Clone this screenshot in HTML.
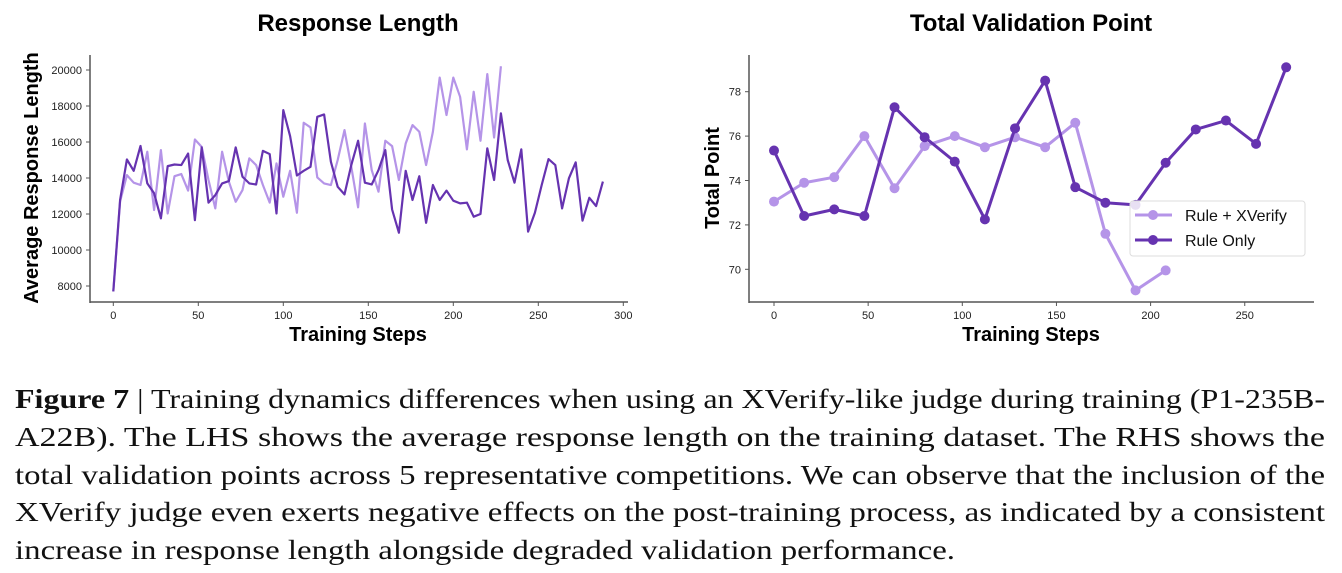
<!DOCTYPE html>
<html><head><meta charset="utf-8"><style>
html,body{margin:0;padding:0;background:#fff;}
svg{display:block;font-family:"Liberation Sans",Arial,sans-serif;}
.cap{font-family:"Liberation Serif",serif;font-size:27px;fill:#111;}
</style></head><body>
<svg id="fig" width="1342" height="573" viewBox="0 0 1342 573">
<g id="left"></g>
<g id="right"></g>
<g>
<text class="cap" x="15" y="408" textLength="1310" lengthAdjust="spacingAndGlyphs"><tspan font-weight="bold">Figure 7</tspan> | Training dynamics differences when using an XVerify-like judge during training (P1-235B-</text>
<text class="cap" x="15" y="446" textLength="1310" lengthAdjust="spacingAndGlyphs">A22B). The LHS shows the average response length on the training dataset.  The RHS shows the</text>
<text class="cap" x="15" y="484" textLength="1310" lengthAdjust="spacingAndGlyphs">total validation points across 5 representative competitions. We can observe that the inclusion of the</text>
<text class="cap" x="15" y="521" textLength="1310" lengthAdjust="spacingAndGlyphs">XVerify judge even exerts negative effects on the post-training process, as indicated by a consistent</text>
<text class="cap" x="15" y="559" textLength="940" lengthAdjust="spacingAndGlyphs">increase in response length alongside degraded validation performance.</text>
</g>
</svg>
<script>
// ---- Left chart data ----
const lenStepsDark = Array.from({length:73},(_,i)=>i*4);
const lenDark = [7700,12780,15030,14400,15780,13700,13150,11760,14660,14750,14720,15360,11660,15700,12630,13050,13700,13830,15700,14070,13700,13640,15510,15330,12030,17770,16330,14140,14400,14620,17400,17530,14900,13510,13090,14720,16070,13740,13640,14440,15550,12250,10960,14400,12780,14100,11510,13610,12780,13300,12740,12590,12630,11850,12000,15650,13890,17590,15000,13740,15590,11020,12070,13610,15050,14720,12310,13980,14870,11630,12900,12440,13800];
const lenStepsLight = Array.from({length:58},(_,i)=>i*4);
const lenLight = [7700,12700,14160,13740,13610,15460,12220,15550,12030,14100,14220,13300,16140,15730,13890,12310,15460,13790,12680,13330,15090,14720,13610,12630,14810,12960,14400,12070,17070,16810,14030,13700,13610,15000,16660,14620,12370,17030,14440,13240,16070,15770,13890,15920,16940,16570,14720,16570,19580,17500,19580,18510,15590,18790,16070,19770,16250,20210];
const lenXTicks = [0,50,100,150,200,250,300];
const lenYTicks = [8000,10000,12000,14000,16000,18000,20000];
// ---- Right chart data ----
const ptStepsLight = [0,16,32,48,64,80,96,112,128,144,160,176,192,208];
const ptLight = [73.05,73.9,74.15,76.0,73.65,75.55,76.0,75.5,75.95,75.5,76.6,71.6,69.05,69.95];
const ptStepsDark = [0,16,32,48,64,80,96,112,128,144,160,176,192,208,224,240,256,272];
const ptDark = [75.35,72.4,72.7,72.4,77.3,75.95,74.85,72.25,76.35,78.5,73.7,73.0,72.9,74.8,76.3,76.7,75.65,79.1];
const ptXTicks = [0,50,100,150,200,250];
const ptYTicks = [70,72,74,76,78];

const NS="http://www.w3.org/2000/svg";
const LIGHT="#b594e8", DARK="#6633b0";
function mk(parent,tag,attrs,txt){const e=document.createElementNS(NS,tag);for(const k in attrs)e.setAttribute(k,attrs[k]);if(txt!==undefined)e.textContent=txt;parent.appendChild(e);return e;}

// Left
(function(){
const g=document.getElementById('left');
const xS=v=>113.3+v*1.70, yS=v=>286-(v-8000)*0.018;
const L=90,B=302,R=628,T=55;
const t=mk(g,'text',{x:358,y:31,'text-anchor':'middle','font-size':24,'font-weight':'bold',fill:'#000'},'Response Length');


const yl=mk(g,'text',{x:38,y:178,'text-anchor':'middle','font-size':20,'font-weight':'bold',fill:'#000',transform:'rotate(-90 38 178)'},'Average Response Length');


const xl=mk(g,'text',{x:358,y:341,'text-anchor':'middle','font-size':20,'font-weight':'bold',fill:'#000'},'Training Steps');


mk(g,'line',{x1:L,y1:T,x2:L,y2:B+1,stroke:'#555','stroke-width':1.5});
mk(g,'line',{x1:L,y1:B,x2:R,y2:B,stroke:'#555','stroke-width':1.5});
lenYTicks.forEach(v=>{const y=yS(v);mk(g,'line',{x1:L-4,y1:y,x2:L,y2:y,stroke:'#555'});
 const tt=mk(g,'text',{x:L-8,y:y+4,'text-anchor':'end','font-size':11,fill:'#222'},v);
 
 });
lenXTicks.forEach(v=>{const x=xS(v);mk(g,'line',{x1:x,y1:B,x2:x,y2:B+4,stroke:'#555'});
 const tt=mk(g,'text',{x:x,y:B+17,'text-anchor':'middle','font-size':11,fill:'#222'},v);
 
 });
const pl=mk(g,'polyline',{points:lenStepsLight.map((s,i)=>xS(s)+','+yS(lenLight[i])).join(' '),fill:'none',stroke:LIGHT,'stroke-width':2.2,'stroke-linejoin':'round'});


const pd=mk(g,'polyline',{points:lenStepsDark.map((s,i)=>xS(s)+','+yS(lenDark[i])).join(' '),fill:'none',stroke:DARK,'stroke-width':2.2,'stroke-linejoin':'round'});


})();

// Right
(function(){
const g=document.getElementById('right');
const xS=v=>774+v*1.883, yS=v=>269.3-(v-70)*22.2;
const L=749,B=302,R=1314,T=55;
const t=mk(g,'text',{x:1031,y:31,'text-anchor':'middle','font-size':24,'font-weight':'bold',fill:'#000'},'Total Validation Point');


const yl=mk(g,'text',{x:719,y:178,'text-anchor':'middle','font-size':20,'font-weight':'bold',fill:'#000',transform:'rotate(-90 719 178)'},'Total Point');


const xl=mk(g,'text',{x:1031,y:341,'text-anchor':'middle','font-size':20,'font-weight':'bold',fill:'#000'},'Training Steps');


mk(g,'line',{x1:L,y1:T,x2:L,y2:B+1,stroke:'#555','stroke-width':1.5});
mk(g,'line',{x1:L,y1:B,x2:R,y2:B,stroke:'#555','stroke-width':1.5});
ptYTicks.forEach(v=>{const y=yS(v);mk(g,'line',{x1:L-4,y1:y,x2:L,y2:y,stroke:'#555'});
 const tt=mk(g,'text',{x:L-8,y:y+4,'text-anchor':'end','font-size':11,fill:'#222'},v);
 
 });
ptXTicks.forEach(v=>{const x=xS(v);mk(g,'line',{x1:x,y1:B,x2:x,y2:B+4,stroke:'#555'});
 const tt=mk(g,'text',{x:x,y:B+17,'text-anchor':'middle','font-size':11,fill:'#222'},v);
 
 });
function series(steps,vals,col,name){
 const p=mk(g,'polyline',{points:steps.map((s,i)=>xS(s)+','+yS(vals[i])).join(' '),fill:'none',stroke:col,'stroke-width':3,'stroke-linejoin':'round'});
 
 
 steps.forEach((s,i)=>{const c=mk(g,'circle',{cx:xS(s),cy:yS(vals[i]),r:5,fill:col});
  
  });
}
series(ptStepsLight,ptLight,LIGHT,'rule-xverify');
series(ptStepsDark,ptDark,DARK,'rule-only');
const lg=mk(g,'g',{});


mk(lg,'rect',{x:1130,y:201,width:175,height:55,rx:3,fill:'rgba(255,255,255,0.85)',stroke:'#ddd'});
mk(lg,'line',{x1:1135,y1:215,x2:1172,y2:215,stroke:LIGHT,'stroke-width':3});
mk(lg,'circle',{cx:1153,cy:215,r:5,fill:LIGHT});
const e1=mk(lg,'text',{x:1185,y:221,'font-size':16,fill:'#111'},'Rule + XVerify');


mk(lg,'line',{x1:1135,y1:240,x2:1172,y2:240,stroke:DARK,'stroke-width':3});
mk(lg,'circle',{cx:1153,cy:240,r:5,fill:DARK});
const e2=mk(lg,'text',{x:1185,y:246,'font-size':16,fill:'#111'},'Rule Only');


})();
</script>
</body></html>
